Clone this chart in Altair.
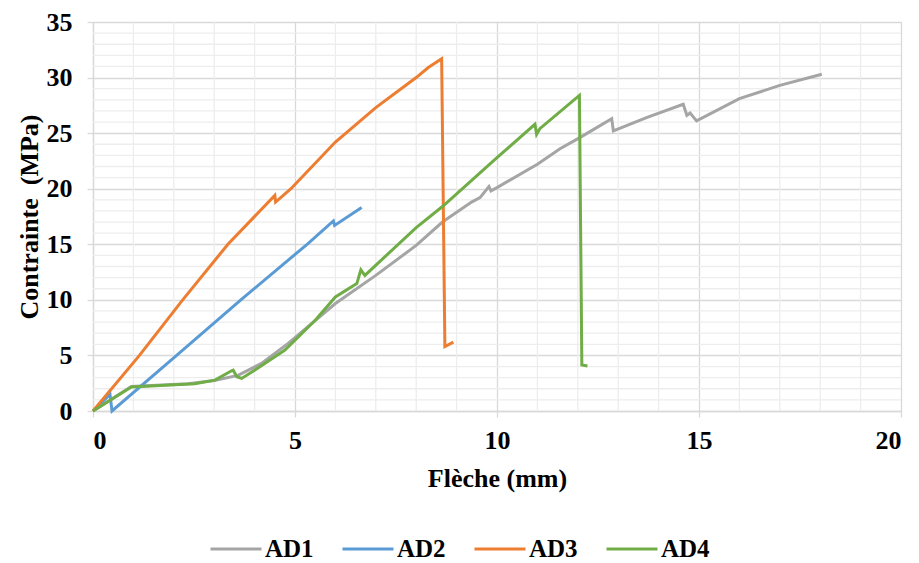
import altair as alt
import pandas as pd

# ---- data ----
series_names = ["AD1", "AD2", "AD3", "AD4"]
series_colors = ["#A5A5A5", "#5B9BD5", "#ED7D31", "#70AD47"]

ad1_x = [0, 0.95, 2.35, 3.0, 3.59, 4.17, 4.83, 5.0, 6.0, 7.0, 8.0, 8.65, 9.37, 9.58, 9.8, 9.85,
         10.0, 11.0, 11.56, 12.05, 12.84, 12.88, 13.7, 14.61, 14.7, 14.78, 14.94, 16.0, 17.0, 18.04]
ad1_y = [0, 2.2, 2.45, 2.75, 3.2, 4.28, 6.08, 6.6, 9.67, 12.2, 14.9, 17.0, 18.8, 19.2, 20.2, 19.8,
         20.1, 22.2, 23.6, 24.6, 26.3, 25.2, 26.4, 27.6, 26.6, 26.8, 26.1, 28.1, 29.3, 30.3]

ad2_x = [0, 0.42, 0.47, 2.07, 3.66, 5.3, 5.95, 5.98, 6.65]
ad2_y = [0, 1.5, 0, 5.0, 10.0, 15.0, 17.1, 16.7, 18.3]

ad3_x = [0, 1.15, 2.22, 3.34, 4.5, 4.52, 4.9, 6.0, 7.0, 8.0, 8.3, 8.63, 8.71, 8.92]
ad3_y = [0, 5.0, 10.0, 15.0, 19.4, 18.8, 20.0, 24.2, 27.3, 30.0, 30.9, 31.7, 5.8, 6.2]

ad4_x = [0, 0.95, 2.52, 3.02, 3.43, 3.47, 3.56, 3.68, 4.01, 4.75, 5.5, 6.0, 6.53, 6.63, 6.73,
         8.0, 8.65, 10.0, 10.94, 10.98, 11.06, 12.04, 12.1, 12.24]
ad4_y = [0, 2.16, 2.45, 2.78, 3.62, 3.68, 3.08, 2.93, 3.68, 5.48, 8.17, 10.26, 11.46, 12.7, 12.2,
         16.5, 18.4, 22.8, 25.8, 24.9, 25.4, 28.4, 4.13, 4.04]

x_ticks = [0, 5, 10, 15, 20]
y_ticks = [0, 5, 10, 15, 20, 25, 30, 35]
x_minor = [v for v in range(1, 20) if v % 5]
y_minor = [v for v in range(1, 35) if v % 5]

rows = []
for name, xs, ys in zip(series_names, [ad1_x, ad2_x, ad3_x, ad4_x], [ad1_y, ad2_y, ad3_y, ad4_y]):
    for i, (a, b) in enumerate(zip(xs, ys)):
        rows.append({"serie": name, "x": a, "y": b, "i": i})
df = pd.DataFrame(rows)

FONT = "Liberation Serif"
GRID_MAJOR = "#D9D9D9"
GRID_MINOR = "#EDEDED"

xscale = alt.Scale(domain=[0, 20], nice=False, zero=False)
yscale = alt.Scale(domain=[0, 35], nice=False, zero=False)

x_axis = alt.Axis(values=x_ticks, grid=True, gridColor=GRID_MAJOR, gridWidth=1.3,
                  domainColor=GRID_MAJOR, domainWidth=1.3, tickColor=GRID_MAJOR,
                  tickWidth=1.3, tickSize=6, labelFont=FONT, labelFontSize=26,
                  labelFontWeight="bold", labelColor="black", labelPadding=10,
                  titleFont=FONT, titleFontSize=26, titleFontWeight="bold",
                  titleColor="black", titlePadding=12, format="d")
y_axis = alt.Axis(values=y_ticks, grid=True, gridColor=GRID_MAJOR, gridWidth=1.3,
                  domainColor=GRID_MAJOR, domainWidth=1.3, tickColor=GRID_MAJOR,
                  tickWidth=1.3, tickSize=6, labelFont=FONT, labelFontSize=26,
                  labelFontWeight="bold", labelColor="black", labelPadding=15,
                  titleFont=FONT, titleFontSize=26, titleFontWeight="bold",
                  titleColor="black", titlePadding=4, format="d")
X_TITLE = "Flèche (mm)"
Y_TITLE = "Contrainte\u00a0\u00a0(MPa)"

minor_v = alt.Chart(pd.DataFrame({"x": x_minor})).mark_rule(
    color=GRID_MINOR, strokeWidth=1.3
).encode(x=alt.X("x:Q", scale=xscale, axis=x_axis, title=X_TITLE))

minor_h = alt.Chart(pd.DataFrame({"y": y_minor})).mark_rule(
    color=GRID_MINOR, strokeWidth=1.3
).encode(y=alt.Y("y:Q", scale=yscale, axis=y_axis, title=Y_TITLE))

lines = alt.Chart(df).mark_line(strokeWidth=3, interpolate="linear").encode(
    x=alt.X("x:Q", scale=xscale, title=X_TITLE, axis=x_axis),
    y=alt.Y("y:Q", scale=yscale, title=Y_TITLE, axis=y_axis),
    color=alt.Color("serie:N", scale=alt.Scale(domain=series_names, range=series_colors),
                    legend=alt.Legend(title=None, orient="none", direction="horizontal",
                                      legendX=116, legendY=500, symbolType="stroke",
                                      symbolSize=2600, symbolStrokeWidth=3,
                                      labelFont=FONT, labelFontSize=25, labelFontWeight="bold",
                                      labelColor="black", columnPadding=22, labelOffset=2)),
    order=alt.Order("i:Q"),
)

chart = alt.layer(minor_v, minor_h, lines).properties(
    width=808, height=389,
    autosize=alt.AutoSizeParams(type="none"),
    padding={"left": 85, "top": 14, "right": 10, "bottom": 150},
).configure_view(stroke=GRID_MAJOR, strokeWidth=1.3).configure(background="white")

chart.save("out.html", embed_options={"renderer": "svg", "actions": False})
